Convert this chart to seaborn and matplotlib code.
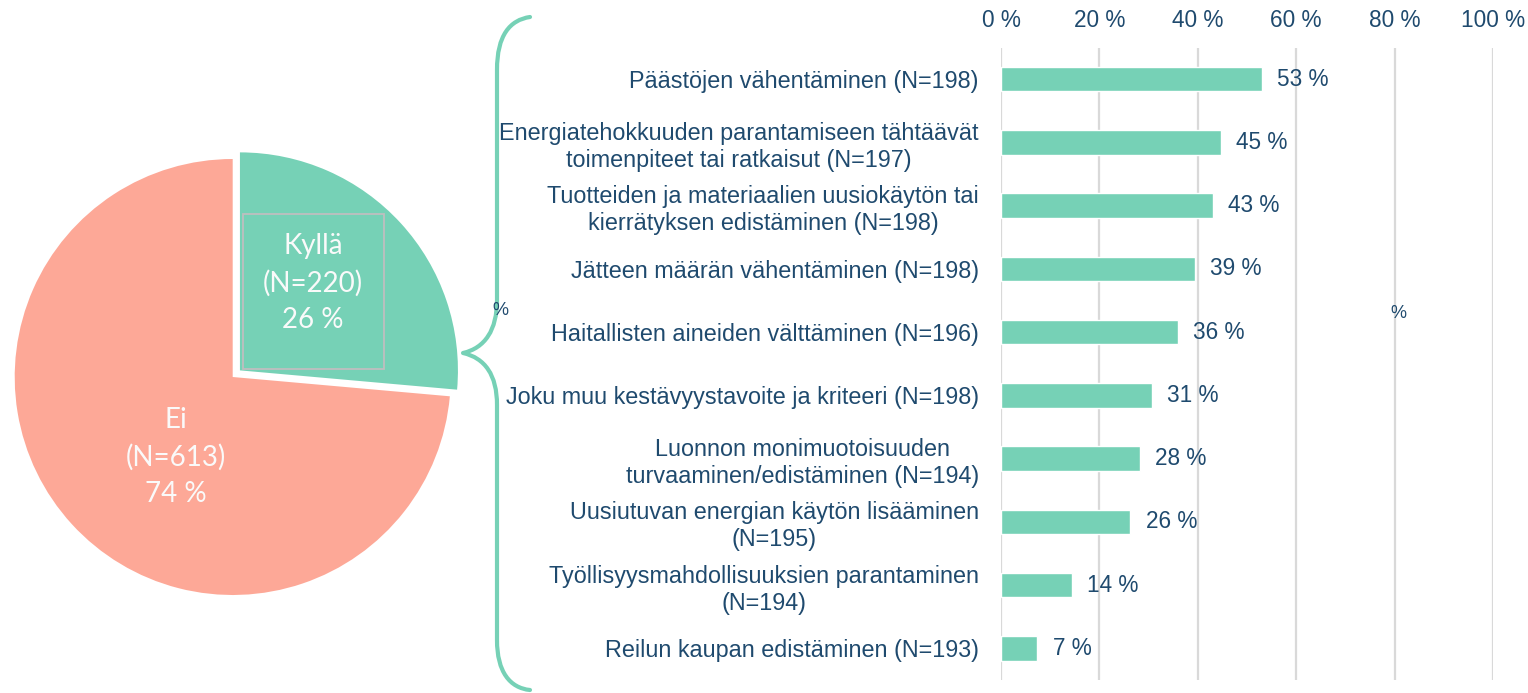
import matplotlib
matplotlib.use("Agg")
import matplotlib.pyplot as plt
import seaborn as sns
import pandas as pd
from matplotlib.path import Path
from matplotlib.patches import PathPatch, Rectangle

# ---------------- data ----------------
pie_labels = ["Kyllä", "Ei"]
pie_counts = [220, 613]
pie_pcts = [26, 74]

categories = [
    "Päästöjen vähentäminen (N=198)",
    "Energiatehokkuuden parantamiseen tähtäävät\ntoimenpiteet tai ratkaisut (N=197)",
    "Tuotteiden ja materiaalien uusiokäytön tai\nkierrätyksen edistäminen (N=198)",
    "Jätteen määrän vähentäminen (N=198)",
    "Haitallisten aineiden välttäminen (N=196)",
    "Joku muu kestävyystavoite ja kriteeri (N=198)",
    "Luonnon monimuotoisuuden\nturvaaminen/edistäminen (N=194)",
    "Uusiutuvan energian käytön lisääminen\n(N=195)",
    "Työllisyysmahdollisuuksien parantaminen\n(N=194)",
    "Reilun kaupan edistäminen (N=193)",
]
values = [53.0, 44.7, 43.0, 39.4, 35.9, 30.7, 28.2, 26.3, 14.4, 7.4]
xticks = [0, 20, 40, 60, 80, 100]

# ---------------- style ----------------
teal = "#76D1B6"
salmon = "#FDA897"
textc = "#1F4A6E"
gridc = "#D9D9D9"

sns.set_theme(style="white")
plt.rcParams["font.family"] = ["Liberation Sans", "DejaVu Sans"]

W, H = 1528, 693
fig = plt.figure(figsize=(W / 100, H / 100), dpi=100)
fig.patch.set_facecolor("white")


def fx(x):
    return x / W


def fy(y):
    return 1 - y / H


# ---------------- pie ----------------
axp = fig.add_axes([0, fy(600), 470 / W, 470 / H])
axp.pie(
    pie_counts,
    colors=[teal, salmon],
    startangle=90,
    counterclock=False,
    explode=[0.045, 0],
    radius=1,
    wedgeprops=dict(linewidth=0),
)
cx, cy, R = 232.7, 377, 218
axp.set_xlim((0 - cx) / R, (470 - cx) / R)
axp.set_ylim((cy - 600) / R, (cy - 130) / R)
axp.set_aspect("auto")
axp.axis("off")

label_pos = [((313 - cx) / R, (cy - 283) / R), ((176 - cx) / R, (cy - 457) / R)]
for lab, n, p, (lx, ly) in zip(pie_labels, pie_counts, pie_pcts, label_pos):
    axp.text(lx, ly, f"{lab}\n(N={n})\n{p} %", ha="center", va="center",
             color="#FAFAFA", fontsize=20, family=["Lato", "DejaVu Sans"],
             linespacing=1.48)

axp.add_patch(Rectangle(((242.7 - cx) / R, (cy - 369) / R),
                        (384 - 242.7) / R, (369 - 214) / R,
                        fill=False, edgecolor="#BFBFBF", lw=1.3))

# ---------------- bars ----------------
axb = fig.add_axes([fx(1001), fy(680), 492 / W, (680 - 47.5) / H])
df = pd.DataFrame({"cat": categories, "val": values})
sns.barplot(data=df, x="val", y="cat", color=teal, saturation=1, width=0.39,
            ax=axb)
axb.set_xlim(0, 100)
axb.set_ylim(9.5, -0.5)
axb.xaxis.tick_top()
axb.set_xticks(xticks)
axb.set_xticklabels([f"{t} %" for t in xticks])
axb.set_xlabel("")
axb.set_ylabel("")
axb.grid(axis="x", color=gridc, lw=1.6)
axb.grid(axis="y", visible=False)
axb.set_axisbelow(True)
for s in axb.spines.values():
    s.set_visible(False)
axb.tick_params(axis="x", length=0, pad=11, labelsize=16.3, labelcolor=textc)
axb.tick_params(axis="y", length=0, pad=16, labelsize=16.8, labelcolor=textc)
for lab in axb.get_yticklabels():
    lab.set_multialignment("center")
    lab.set_linespacing(1.22)

axb.bar_label(axb.containers[0], labels=[f"{round(v)} %" for v in values],
              padding=11, fontsize=16.3, color=textc)

# ---------------- brace ----------------
pts = [
    (530, 17), (510, 20), (497, 35), (497, 70),
    (497, 300),
    (497, 330), (485, 348), (463, 353),
    (485, 358), (497, 375), (497, 405),
    (497, 640),
    (497, 672), (510, 688), (530, 690),
]
codes = [Path.MOVETO, Path.CURVE4, Path.CURVE4, Path.CURVE4,
         Path.LINETO,
         Path.CURVE4, Path.CURVE4, Path.CURVE4,
         Path.CURVE4, Path.CURVE4, Path.CURVE4,
         Path.LINETO,
         Path.CURVE4, Path.CURVE4, Path.CURVE4]
brace = PathPatch(Path([(fx(x), fy(y)) for x, y in pts], codes),
                  transform=fig.transFigure, fill=False, edgecolor=teal,
                  lw=3, capstyle="round", joinstyle="round")
fig.add_artist(brace)

# stray percent signs in the original
fig.text(fx(500), fy(311), "%", fontsize=13, color=textc, ha="center", va="center")
fig.text(fx(1398), fy(313), "%", fontsize=13, color=textc, ha="center", va="center")

fig.savefig("out.png", dpi=100)
